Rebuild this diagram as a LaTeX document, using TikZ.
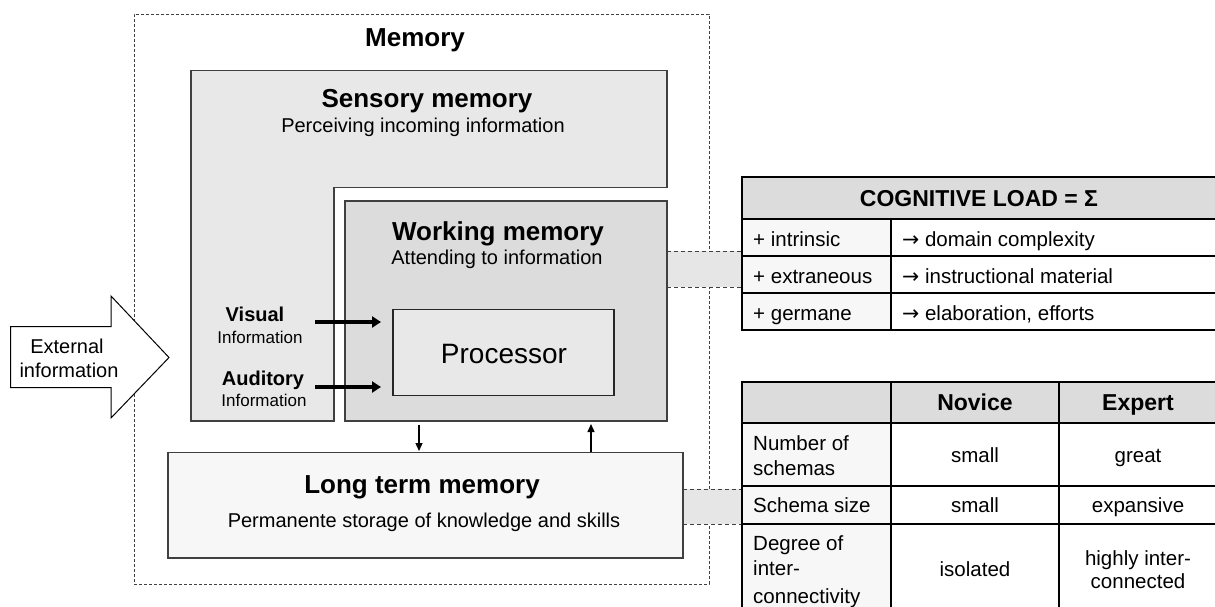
\documentclass[tikz,border=0pt]{standalone}
\usepackage{fontspec}
\setmainfont{Liberation Sans}
\newfontfamily\arrowfont{DejaVu Sans}
\usetikzlibrary{arrows.meta}
\definecolor{sensfill}{HTML}{E8E8E8}
\definecolor{wmfill}{HTML}{DCDCDC}
\definecolor{procfill}{HTML}{E8E8E8}
\definecolor{ltmfill}{HTML}{F7F7F7}
\definecolor{hdrfill}{HTML}{DCDCDC}
\definecolor{colfill}{HTML}{F7F7F7}
\definecolor{bandfill}{HTML}{E6E6E6}
\definecolor{edge}{HTML}{404040}
\newcommand{\rarr}{{\arrowfont →}}
\begin{document}
\begin{tikzpicture}[x=1pt,y=-1pt,
  memline/.style={draw=edge, line width=1.1pt},
  outerline/.style={draw=black!75, line width=0.8pt, dash pattern=on 3pt off 2pt},
  bandline/.style={draw=black!75, line width=0.8pt, dash pattern=on 4pt off 3pt},
  boxnode/.style={rectangle, inner sep=0pt, memline},
  txt/.style={inner sep=0pt, anchor=base},
  ttl/.style={txt, font=\fontsize{26}{31}\selectfont\bfseries},
  subt/.style={txt, font=\fontsize{20}{24}\selectfont},
  chan/.style={txt, font=\fontsize{20}{24}\selectfont\bfseries},
  info/.style={txt, font=\fontsize{17}{20}\selectfont},
  cell/.style={rectangle, draw=black, line width=1.8pt, inner sep=0pt},
  hdr/.style={cell, fill=hdrfill},
  lcol/.style={cell, fill=colfill},
  vcol/.style={cell, fill=white},
  ctext/.style={txt, font=\fontsize{20.5}{25.5}\selectfont},
  ltext/.style={txt, font=\fontsize{20.5}{25.5}\selectfont, anchor=base west},
  htext/.style={txt, font=\fontsize{23}{27}\selectfont\bfseries},
  feed/.style={-{Triangle[length=9pt,width=11pt]}, line width=3.6pt},
  flow/.style={-{Triangle[length=8pt,width=7pt]}, line width=1.3pt}
]
\useasboundingbox (0,0) rectangle (1215,607);
\clip (0,0) rectangle (1215,607);

% outer memory frame
\node[rectangle, outerline, inner sep=0pt, minimum width=575pt, minimum height=570pt] (mem) at (421.5,299) {};
\node[ttl] (memt) at (415,46.7) {Memory};

% link bands
\fill[bandfill] (667,251) rectangle (742,287);
\draw[bandline] (667,251) -- (742,251) (667,287) -- (742,287);
\fill[bandfill] (683,489) rectangle (742,524);
\draw[bandline] (683,489) -- (742,489) (683,524) -- (742,524);

% sensory memory (L shape)
\draw[memline, fill=sensfill] (191,70.7) -- (667,70.7) -- (667,187.7) -- (334,187.7) -- (334,421) -- (191,421) -- cycle;
\node[ttl] (senst) at (427,107.3) {Sensory memory};
\node[subt] (sensd) at (423,132.7) {Perceiving incoming information};

% working memory
\node[boxnode, fill=wmfill, minimum width=322pt, minimum height=220pt] (wm) at (506,311) {};
\node[ttl] (wmt) at (498,240.5) {Working memory};
\node[subt] (wmd) at (497,264.7) {Attending to information};

% processor
\node[boxnode, draw=black!85, fill=procfill, minimum width=221pt, minimum height=86pt] (proc) at (503.5,352.4) {};
\node[txt, font=\fontsize{28}{32}\selectfont] (proct) at (504,363.3) {Processor};

% channels
\node[chan] (vis) at (255,321.7) {Visual};
\node[info] (visi) at (260,343.3) {Information};
\node[chan] (aud) at (263,385) {Auditory};
\node[info] (audi) at (264,406) {Information};
\coordinate (vs) at (315,322);
\coordinate (ve) at (381,322);
\coordinate (as) at (315,387);
\coordinate (ae) at (381,387);
\draw[feed] (vs) -- (ve);
\draw[feed] (as) -- (ae);

% long term memory
\node[boxnode, fill=ltmfill, minimum width=515pt, minimum height=105.3pt] (ltm) at (425.5,505.3) {};
\node[ttl] (ltmt) at (422,493.3) {Long term memory};
\node[subt] (ltmd) at (424,527) {Permanente storage of knowledge and skills};

\coordinate (ds) at (419,425);
\coordinate (de) at (419,451);
\coordinate (us) at (591,452);
\coordinate (ue) at (591,424);
\draw[flow] (ds) -- (de);
\draw[flow] (us) -- (ue);

% external information arrow
\draw[draw=black, line width=1pt, fill=white] (10.7,326.7) -- (111,326.7) -- (111,296) -- (169,357.5) -- (111,418) -- (111,387.7) -- (10.7,387.7) -- cycle;
\node[subt] (ext1) at (67,353.3) {External};
\node[subt] (ext2) at (69,377.3) {information};

% cognitive load table
\node[hdr, minimum width=475pt, minimum height=42pt] (t1h) at (979.5,198) {};
\node[htext] (t1ht) at (979,206.7) {COGNITIVE LOAD = Σ};
\node[lcol, minimum width=149pt, minimum height=37pt] (t1a1) at (816.5,237.5) {};
\node[vcol, minimum width=326pt, minimum height=37pt] (t1b1) at (1054,237.5) {};
\node[lcol, minimum width=149pt, minimum height=37pt] (t1a2) at (816.5,274.5) {};
\node[vcol, minimum width=326pt, minimum height=37pt] (t1b2) at (1054,274.5) {};
\node[lcol, minimum width=149pt, minimum height=37pt] (t1a3) at (816.5,311.5) {};
\node[vcol, minimum width=326pt, minimum height=37pt] (t1b3) at (1054,311.5) {};
\node[ltext] at (753,246) {+ intrinsic};
\node[ltext] at (753,283) {+ extraneous};
\node[ltext] at (753,320) {+ germane};
\node[ltext] at (902,246) {\rarr\ domain complexity};
\node[ltext] at (902,283) {\rarr\ instructional material};
\node[ltext] at (902,320) {\rarr\ elaboration, efforts};

% novice / expert table
\node[hdr, minimum width=149pt, minimum height=41pt] (t2h1) at (816.5,402.5) {};
\node[hdr, minimum width=168pt, minimum height=41pt] (t2h2) at (975,402.5) {};
\node[hdr, minimum width=158pt, minimum height=41pt] (t2h3) at (1138,402.5) {};
\node[htext] at (975,410.7) {Novice};
\node[htext] at (1138,410.7) {Expert};

\node[lcol, minimum width=149pt, minimum height=63pt] (t2a1) at (816.5,454.5) {};
\node[vcol, minimum width=168pt, minimum height=63pt] (t2b1) at (975,454.5) {};
\node[vcol, minimum width=158pt, minimum height=63pt] (t2c1) at (1138,454.5) {};
\node[lcol, minimum width=149pt, minimum height=38pt] (t2a2) at (816.5,505) {};
\node[vcol, minimum width=168pt, minimum height=38pt] (t2b2) at (975,505) {};
\node[vcol, minimum width=158pt, minimum height=38pt] (t2c2) at (1138,505) {};
\node[lcol, minimum width=149pt, minimum height=88pt] (t2a3) at (816.5,568) {};
\node[vcol, minimum width=168pt, minimum height=88pt] (t2b3) at (975,568) {};
\node[vcol, minimum width=158pt, minimum height=88pt] (t2c3) at (1138,568) {};

\node[ltext] at (753,450) {Number of};
\node[ltext] at (753,475.7) {schemas};
\node[ltext] at (753,512.7) {Schema size};
\node[ltext] at (753,550) {Degree of};
\node[ltext] at (753,575.7) {inter-};
\node[ltext] at (753,603) {connectivity};
\node[ctext] at (975,462.7) {small};
\node[ctext] at (975,512.7) {small};
\node[ctext] at (975,576.7) {isolated};
\node[ctext] at (1138,462.7) {great};
\node[ctext] at (1138,512.7) {expansive};
\node[ctext] at (1138,565) {highly inter-};
\node[ctext] at (1138,588.3) {connected};
\end{tikzpicture}
\end{document}
